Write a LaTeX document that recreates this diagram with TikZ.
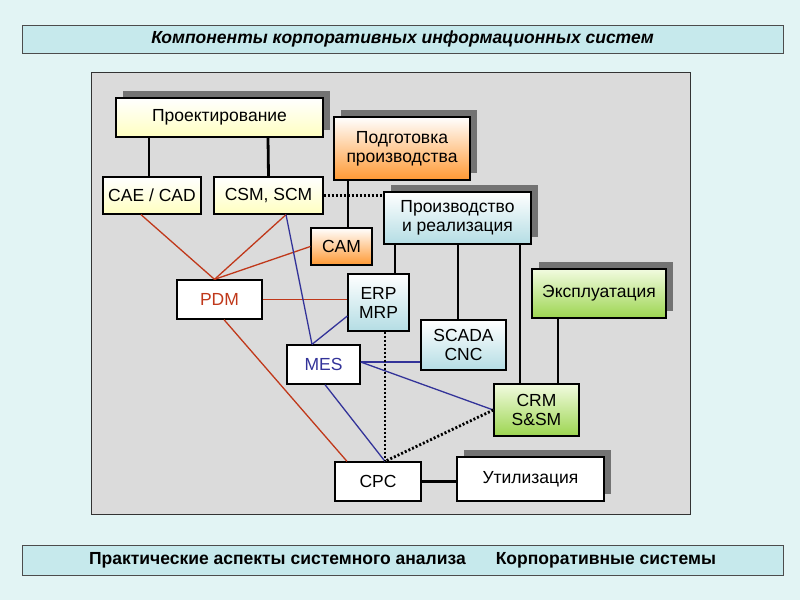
\documentclass[tikz,border=0pt]{standalone}
\usepackage{fontspec}
\setmainfont{Liberation Sans}
\begin{document}
\begin{tikzpicture}[x=1pt,y=-1pt,
  base/.style={draw=black,line width=1.3pt,inner sep=0pt,align=center,font=\fontsize{17.5}{19}\selectfont},
  yel/.style={base,top color=white,bottom color=yellow!25!white,middle color=yellow!12!white},
  ora/.style={base,top color=white,bottom color=orange!80!white},
  cya/.style={base,top color=white,bottom color=cyabot},
  gre/.style={base,top color=grntop,bottom color=grnbot},
  whi/.style={base,fill=white},
  sh/.style={fill=black!55},
  blk/.style={line width=2.8pt},
  redl/.style={draw=redc,line width=1.3pt},
  blul/.style={draw=bluc,line width=1.3pt},
  dot/.style={line width=2.8pt,dash pattern=on 2pt off 2pt}]
\definecolor{bg}{HTML}{E2F4F4}
\definecolor{bar}{HTML}{C6E9EC}
\definecolor{cyabot}{HTML}{B4DDE4}
\definecolor{grntop}{HTML}{F2FBE0}
\definecolor{grnbot}{HTML}{9CD550}
\definecolor{redc}{HTML}{C0381A}
\definecolor{bluc}{HTML}{333399}
\useasboundingbox (0,0) rectangle (800,600);
\fill[bg] (0,0) rectangle (800,600);
\node[draw=black!70,fill=bar,minimum width=761pt,minimum height=28pt,font=\bfseries\itshape\fontsize{17.5}{19}\selectfont] (title) at (402.5,39) {Компоненты корпоративных информационных систем};
\node[draw=black!70,fill=bar,minimum width=761pt,minimum height=30pt,font=\bfseries\fontsize{17.5}{19}\selectfont] (foot) at (402.5,560) {Практические аспекты системного анализа\hspace{30pt}Корпоративные системы};
\draw[black!80,fill=black!14] (91,72) rectangle (690,514);
% shadows
\fill[sh] (123,91) rectangle (330,130);
\fill[sh] (341,110) rectangle (477,173);
\fill[sh] (391,185) rectangle (538,237);
\fill[sh] (539,262) rectangle (673,311);
\fill[sh] (464,450) rectangle (611,494);
% nodes
\node[yel,minimum width=207pt,minimum height=39pt] (proj) at (219.5,117.5) {Проектирование};
\node[ora,minimum width=136pt,minimum height=63pt] (podg) at (402,148.5) {Подготовка\\производства};
\node[yel,minimum width=98pt,minimum height=37pt] (cae) at (152,195.5) {CAE / CAD};
\node[yel,minimum width=109pt,minimum height=37pt] (csm) at (268.5,195.5) {CSM, SCM};
\node[cya,minimum width=147pt,minimum height=52pt] (proiz) at (457.5,218) {Производство\\и реализация};
\node[ora,minimum width=61pt,minimum height=37pt] (cam) at (341.5,246.5) {CAM};
\node[gre,minimum width=134pt,minimum height=49pt] (expl) at (599,293.5) {Эксплуатация};
\node[whi,minimum width=85pt,minimum height=39pt,text=redc] (pdm) at (219.5,299.5) {PDM};
\node[cya,minimum width=61pt,minimum height=57pt] (erp) at (378.5,302.5) {ERP\\MRP};
\node[cya,minimum width=85pt,minimum height=50pt] (scada) at (463.5,345) {SCADA\\CNC};
\node[whi,minimum width=73pt,minimum height=39pt,text=bluc] (mes) at (323.5,364.5) {MES};
\node[gre,minimum width=85pt,minimum height=52pt] (crm) at (536.5,410) {CRM\\S\&SM};
\node[whi,minimum width=86pt,minimum height=39pt] (cpc) at (378,481.5) {CPC};
\node[whi,minimum width=147pt,minimum height=44pt] (util) at (530.5,479) {Утилизация};
% black connectors
\draw[blk] ([xshift=-70.5pt]proj.south) -- ([xshift=-3pt]cae.north);
\draw[blk] ([xshift=48.5pt]proj.south) -- (csm.north);
\draw[blk] ([xshift=-54pt]podg.south) -- ([xshift=6.5pt]cam.north);
\draw[dot] (csm.east) -- (csm.east -| proiz.west);
\draw[blk] ([xshift=-62.5pt]proiz.south) -- ([xshift=16.5pt]erp.north);
\draw[blk] ([xshift=0.5pt]proiz.south) -- ([xshift=-5.5pt]scada.north);
\draw[blk] ([xshift=62.5pt]proiz.south) -- ([xshift=-16.5pt]crm.north);
\draw[blk] ([xshift=-41pt]expl.south) -- ([xshift=21.5pt]crm.north);
\draw[blk] (cpc.east) -- (cpc.east -| util.west);
% red
\draw[redl] ([xshift=-11pt]cae.south) -- ([xshift=-5pt]pdm.north);
\draw[redl] ([xshift=17.5pt]csm.south) -- ([xshift=-5pt]pdm.north);
\draw[redl] (cam.west) -- ([xshift=-5pt]pdm.north);
\draw[redl] (pdm.east) -- (pdm.east -| erp.west);
\draw[redl] ([xshift=4.5pt]pdm.south) -- ([xshift=-31pt]cpc.north);
% blue
\draw[blul] ([xshift=17.5pt]csm.south) -- ([xshift=-11.5pt]mes.north);
\draw[blul] ([yshift=-13.5pt]erp.west) -- ([xshift=-11.5pt]mes.north);
\draw[blul] ([yshift=-17pt]scada.west) -- ([yshift=2.5pt]mes.east);
\draw[blul] ([yshift=2.5pt]mes.east) -- (crm.west);
\draw[blul] ([xshift=1.5pt]mes.south) -- ([xshift=7pt]cpc.north);
% dotted
\draw[dot] ([xshift=6.5pt]erp.south) -- ([xshift=7pt]cpc.north);
\draw[dot] (crm.west) -- ([xshift=7pt]cpc.north);
\end{tikzpicture}
\end{document}
